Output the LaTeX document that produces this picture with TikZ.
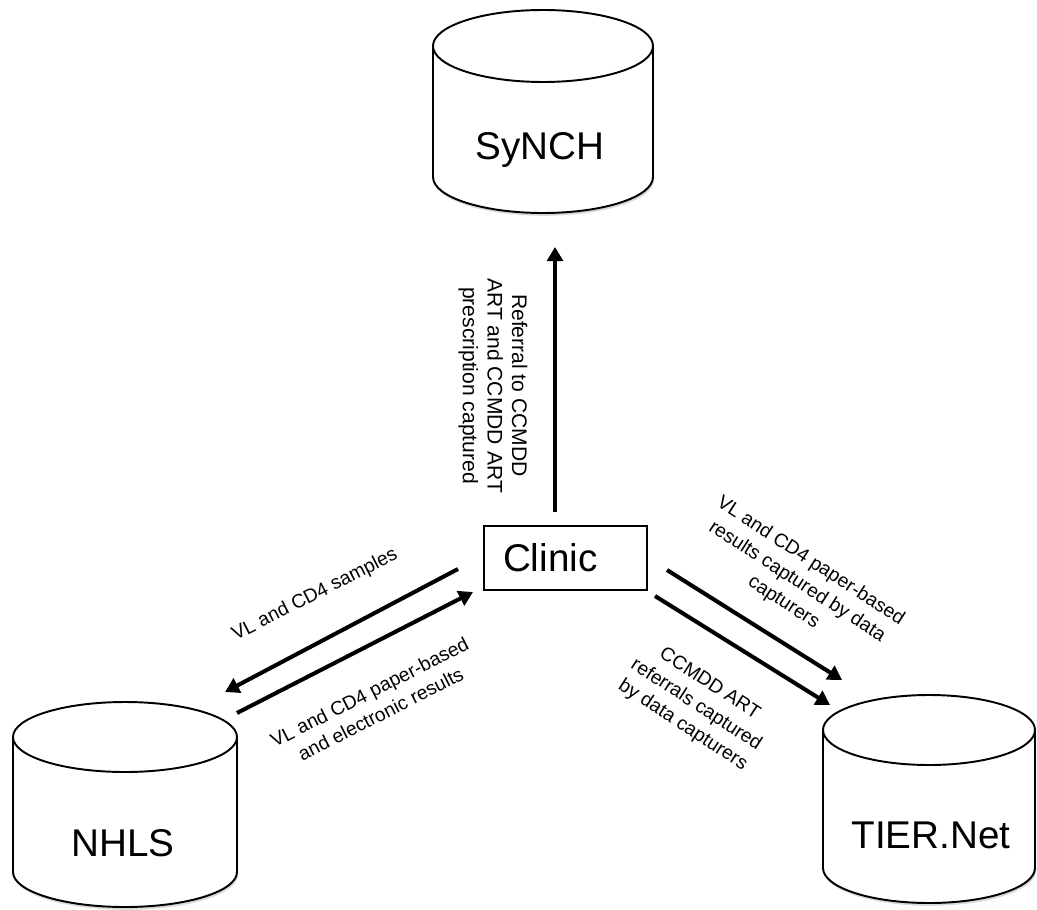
\documentclass[tikz,border=0pt]{standalone}
\usepackage{fontspec}
\setmainfont{Liberation Sans}
\usetikzlibrary{arrows.meta,shadows}

\tikzset{
  db/.style={draw, line width=1.1pt, fill=white,
    drop shadow={shadow xshift=0.6pt, shadow yshift=-1.6pt, opacity=0.3}},
  dbtop/.style={draw, line width=1.1pt, fill=white},
  flow/.style={line width=2.3pt, -{Triangle[length=8pt,width=9pt]}},
  big/.style={font=\fontsize{22}{26}\selectfont},
  note/.style={font=\fontsize{11}{14}\selectfont, align=center, inner sep=0pt},
}

\begin{document}
\begin{tikzpicture}[x=0.02cm, y=-0.02cm]
\useasboundingbox (0,0) rectangle (1037,909);

% databases
\draw[db] (433,46) -- (433,177) arc[start angle=180, end angle=0, x radius=110, y radius=36] -- (653,46);
\draw[dbtop] (543,46) ellipse [x radius=110, y radius=36];
\node[big] (synch) at (540,150) {SyNCH};

\draw[db] (13,737) -- (13,872) arc[start angle=180, end angle=0, x radius=112, y radius=35] -- (237,737);
\draw[dbtop] (125,737) ellipse [x radius=112, y radius=35];
\node[big] (nhls) at (123,843) {NHLS};

\draw[db] (823,730) -- (823,868) arc[start angle=180, end angle=0, x radius=106, y radius=35] -- (1035,730);
\draw[dbtop] (929,730) ellipse [x radius=106, y radius=35];
\node[big] (tier) at (931,835) {TIER.Net};

% clinic
\node[draw, line width=0.8pt, big, text width=2.5cm, align=left, inner xsep=0.38cm,
  minimum height=1.28cm] (clinic) at (565.5,558) {Clinic};

% arrow ends
\coordinate (up-s) at (555,512);
\coordinate (up-e) at (555,247);
\coordinate (smp-s) at (458,569);
\coordinate (smp-e) at (225,692);
\coordinate (res-s) at (237,713);
\coordinate (res-e) at (473,592);
\coordinate (vl-s) at (667,570);
\coordinate (vl-e) at (842,680);
\coordinate (ref-s) at (655,596);
\coordinate (ref-e) at (830,705);

\draw[flow] (up-s) -- (up-e);
\draw[flow] (smp-s) -- (smp-e);
\draw[flow] (res-s) -- (res-e);
\draw[flow] (vl-s) -- (vl-e);
\draw[flow] (ref-s) -- (ref-e);

% labels
\node[note, font=\fontsize{12}{14}\selectfont, rotate=-90] (lbl-up) at (493,385.5) {Referral to CCMDD\\ART and CCMDD ART\\prescription captured};
\node[note, rotate=27] (lbl-smp) at (315,595) {VL and CD4 samples};
\node[note, rotate=27] (lbl-res) at (375,703) {VL and CD4 paper-based\\and electronic results};
\node[note, rotate=-33] (lbl-vl) at (797,582) {VL and CD4 paper-based\\results captured by data\\capturers};
\node[note, rotate=-33] (lbl-ref) at (696,705) {CCMDD ART\\referrals captured\\by data capturers};
\end{tikzpicture}
\end{document}
